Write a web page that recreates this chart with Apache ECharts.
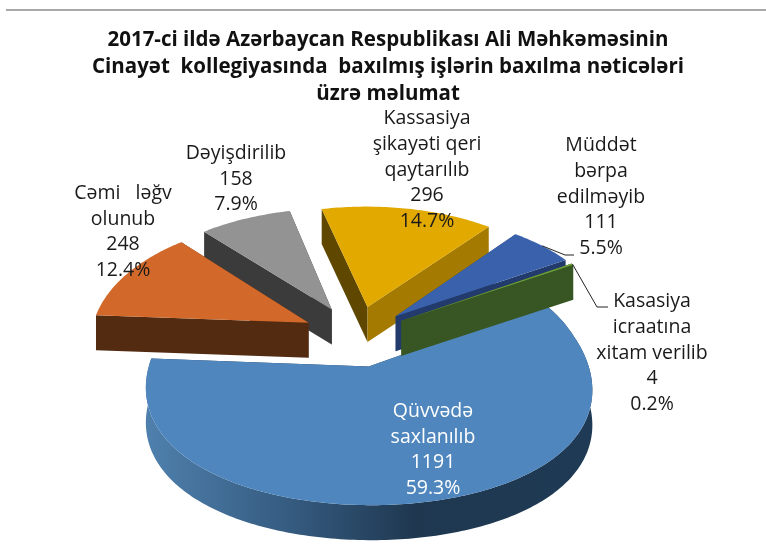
<!DOCTYPE html>
<html>
<head>
<meta charset="utf-8">
<script src="https://fastly.jsdelivr.net/npm/echarts@6/dist/echarts.min.js"></script>
<style>
  html, body { margin: 0; padding: 0; background: #fff; }
  #chart { width: 766px; height: 548px; }
</style>
</head>
<body>
<div id="chart"></div>
<script>
// data, clockwise from the right edge of the big slice
const categories = [
  "Qüvvədə\nsaxlanılıb",
  "Cəmi   ləğv\nolunub",
  "Dəyişdirilib",
  "Kassasiya\nşikayəti qeri\nqaytarılıb",
  "Müddət\nbərpa\nedilməyib",
  "Kasasiya\nicraatına\nxitam verilib",
];
const values = [1191, 248, 158, 296, 111, 4];
const titleLines = [
  "2017-ci ildə Azərbaycan Respublikası Ali Məhkəməsinin",
  "Cinayət  kollegiyasında  baxılmış işlərin baxılma nəticələri",
  "üzrə məlumat",
];

const total = values.reduce((a, b) => a + b, 0);
const font = "Open Sans";

// fake 3D pie: ellipse with a bit of perspective
const firstAngle = 60;
const cx = 356;
const cy = 336;
const radius = 218;
const tilt = 0.58;
const explode = 0.245;
const depth = 35;

const project = (u, v) => {
  const fx = 1 / (1 - (v < 0 ? 0.13 : 0.163) * v);
  const fy = 1 / (1 - (v < 0 ? 0.17 : 0.06) * v);
  return [cx + radius * u * fx, cy + radius * tilt * v * fy];
};

// one style entry per slice, same order as values
const looks = [
  { top: "#4F86BE", start: "#1F3850", end: "#1F3850", z: 1, widthScale: 0.97 },
  { top: "#D2692A", start: "#522B10", end: "#522B10", z: 4, widthScale: 1 },
  { top: "#939393", start: "#3B3B3B", end: "#3B3B3B", z: 2, widthScale: 1 },
  { top: "#E2A900", start: "#5F4700", end: "#A47A00", z: 3, widthScale: 1 },
  { top: "#3A62AC", start: "#223A6C", end: "#223A6C", z: 5, widthScale: 1 },
  { top: "#6FA03A", start: "#375623", end: "#375623", z: 6, widthScale: 1 },
];
const labelPlaces = [
  { x: 433, y: 450, color: "#fff" },
  { x: 123, y: 232, color: "#1a1a1a" },
  { x: 236, y: 179, color: "#1a1a1a" },
  { x: 427, y: 170, color: "#1a1a1a" },
  { x: 601, y: 197, color: "#1a1a1a" },
  { x: 652, y: 353, color: "#1a1a1a" },
];
// elbow + end of the leader line, only the two small slices have one
const leaders = {
  4: [[565, 255], [574, 255]],
  5: [[597, 307], [608, 307]],
};

const sliceAngles = (i) => {
  let before = 0;
  for (let k = 0; k < i; k++) before += values[k];
  const a0 = firstAngle + (before / total) * 360;
  return [a0, a0 + (values[i] / total) * 360];
};

const pointAt = (i, deg, r) => {
  const [a0, a1] = sliceAngles(i);
  const mid = ((a0 + a1) / 2) * Math.PI / 180;
  const t = deg * Math.PI / 180;
  return project(
    explode * Math.sin(mid) + looks[i].widthScale * r * Math.sin(t),
    -explode * Math.cos(mid) - r * Math.cos(t)
  );
};

const wall = (points, fill, z) => {
  const down = points.map((p) => [p[0], p[1] + depth]).reverse();
  return {
    type: "polygon",
    z2: z,
    shape: { points: points.concat(down) },
    style: { fill: fill },
  };
};

const renderSlice = (params) => {
  const i = params.dataIndex;
  const look = looks[i];
  const [a0, a1] = sliceAngles(i);
  const apex = pointAt(i, a0, 0);
  const arc = [];
  const steps = Math.max(2, Math.ceil(a1 - a0));
  for (let s = 0; s <= steps; s++) {
    arc.push(pointAt(i, a0 + ((a1 - a0) * s) / steps, 1));
  }
  const children = [];

  if (i === 0) {
    children.push(wall(arc, {
      type: "linear", x: 0, y: 0, x2: 1, y2: 0,
      colorStops: [
        { offset: 0, color: "#4F80AD" },
        { offset: 0.35, color: "#33587C" },
        { offset: 0.6, color: "#1F3850" },
        { offset: 1, color: "#1F3A55" },
      ],
    }, look.z));
  }
  children.push(wall([apex, arc[0]], look.start, look.z));
  children.push(wall([apex, arc[arc.length - 1]], look.end, look.z));
  children.push({
    type: "polygon",
    z2: look.z,
    shape: { points: [apex].concat(arc) },
    style: { fill: look.top },
  });

  if (leaders[i]) {
    children.push({
      type: "polyline",
      z2: 8,
      shape: { points: [pointAt(i, (a0 + a1) / 2, 1)].concat(leaders[i]) },
      style: { stroke: "#222", lineWidth: 1, fill: null },
    });
  }

  const place = labelPlaces[i];
  const pct = ((values[i] / total) * 100).toFixed(1) + "%";
  children.push({
    type: "text",
    z2: 10,
    style: {
      text: categories[i] + "\n" + values[i] + "\n" + pct,
      x: place.x,
      y: place.y,
      align: "center",
      verticalAlign: "middle",
      fill: place.color,
      fontFamily: font,
      fontSize: 19.5,
      lineHeight: 25.6,
    },
  });

  return { type: "group", children: children };
};

const chart = echarts.init(document.getElementById("chart"));
chart.setOption({
  backgroundColor: "#fff",
  animation: false,
  title: {
    text: titleLines.join("\n"),
    left: 383,
    top: 22,
    textAlign: "center",
    textStyle: {
      color: "#111",
      fontFamily: font,
      fontWeight: "bold",
      fontSize: 20.5,
      lineHeight: 27,
    },
  },
  graphic: [
    {
      type: "line",
      shape: { x1: 6, y1: 10, x2: 766, y2: 10 },
      style: { stroke: "#8C8C8C", lineWidth: 1.5 },
    },
  ],
  series: [
    {
      type: "custom",
      coordinateSystem: "none",
      renderItem: renderSlice,
      data: values,
    },
  ],
});
</script>
</body>
</html>
